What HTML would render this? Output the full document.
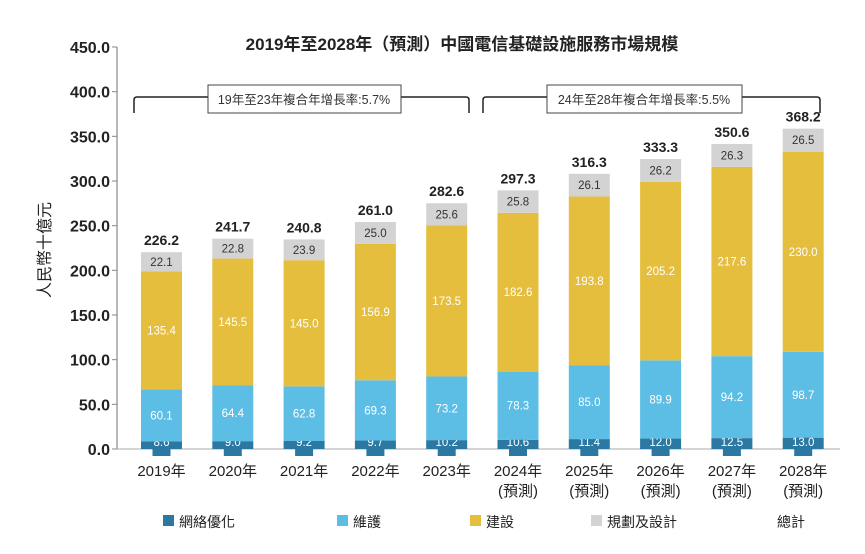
<!DOCTYPE html>
<html><head><meta charset="utf-8"><style>
body{margin:0;background:#fff;font-family:"Liberation Sans","Noto Sans CJK TC",sans-serif}
</style></head><body>
<svg id="c" width="865" height="549" font-family="Liberation Sans, Noto Sans CJK TC, sans-serif">
<text x="462" y="50" text-anchor="middle" font-size="17" font-weight="bold" fill="#222">2019年至2028年（預測）中國電信基礎設施服務市場規模</text>
<text transform="translate(50,250) rotate(-90)" text-anchor="middle" font-size="16" fill="#222">人民幣十億元</text>
<g id="axis"></g><g id="bars"></g>
<g fill="none" stroke="#222" stroke-width="1.5">
<path d="M134,113 V100 Q134,97 137,97 H466 Q469,97 469,100 V113"/></g>
<rect x="208" y="85" width="193" height="28" fill="#fff" stroke="#444"/>
<text x="304" y="104" text-anchor="middle" font-size="12.5" fill="#333">19年至23年複合年增長率:5.7%</text>
<g fill="none" stroke="#222" stroke-width="1.5">
<path d="M483,113 V100 Q483,97 486,97 H817 Q820,97 820,100 V113"/></g>
<rect x="547" y="85" width="195" height="28" fill="#fff" stroke="#444"/>
<text x="644" y="104" text-anchor="middle" font-size="12.5" fill="#333">24年至28年複合年增長率:5.5%</text>
<g id="legend" font-size="14" fill="#222">
<rect x="163" y="515" width="11" height="11" fill="#2b78a3"/>
<text x="179" y="527">網絡優化</text>
<rect x="337" y="515" width="11" height="11" fill="#5cbde5"/>
<text x="353" y="527">維護</text>
<rect x="470" y="515" width="11" height="11" fill="#e5be3e"/>
<text x="486" y="527">建設</text>
<rect x="591" y="515" width="11" height="11" fill="#d3d3d3"/>
<text x="607" y="527">規劃及設計</text>
<text x="777" y="527">總計</text>
</g>
</svg>
<script>
const categories=["2019年","2020年","2021年","2022年","2023年","2024年","2025年","2026年","2027年","2028年"];
const forecast=[false,false,false,false,false,true,true,true,true,true];
const network=[8.6,9.0,9.2,9.7,10.2,10.6,11.4,12.0,12.5,13.0];
const maintenance=[60.1,64.4,62.8,69.3,73.2,78.3,85.0,89.9,94.2,98.7];
const construction=[135.4,145.5,145.0,156.9,173.5,182.6,193.8,205.2,217.6,230.0];
const planning=[22.1,22.8,23.9,25.0,25.6,25.8,26.1,26.2,26.3,26.5];
const totals=[226.2,241.7,240.8,261.0,282.6,297.3,316.3,333.3,350.6,368.2];
const yTicks=[0,50,100,150,200,250,300,350,400,450];
const NS="http://www.w3.org/2000/svg";
const y0=449,yTopPx=47;
// tick axis scale (labels) and bar scale as drawn in the reference
function yTick(v){return y0-(v/450)*(y0-yTopPx);}
function y(v){return y0-v*0.87;}
function x(i){return 161.5+i*71.3;}
const bw=41;
function mk(tag,attrs,parent,txt){const e=document.createElementNS(NS,tag);for(const k in attrs)e.setAttribute(k,attrs[k]);if(txt!==undefined)e.textContent=txt;parent.appendChild(e);return e;}
const ax=document.getElementById('axis');
const yl=mk('line',{x1:117,x2:117,y1:yTopPx,y2:y0,stroke:'#888','stroke-width':1.2},ax);


yTicks.forEach(t=>{
 const tk=mk('line',{x1:112,x2:117,y1:yTick(t),y2:yTick(t),stroke:'#888'},ax);
 
 
 const tl=mk('text',{x:110,y:yTick(t)+6,'text-anchor':'end','font-size':16,'font-weight':'bold',fill:'#222'},ax,t.toFixed(1));
 
 
});
const xl=mk('line',{x1:117,x2:840,y1:y0,y2:y0,stroke:'#bbb','stroke-width':1.2},ax);


const bars=document.getElementById('bars');
const series=[[network,'#2b78a3','network'],[maintenance,'#5cbde5','maintenance'],[construction,'#e5be3e','construction'],[planning,'#d3d3d3','planning']];
categories.forEach((c,i)=>{
 let base=0;const cx=x(i);
 series.forEach(([arr,col,nm],si)=>{
  const v=arr[i];const top=y(base+v),bot=y(base);
  const r=mk('rect',{x:cx-bw/2,y:top,width:bw,height:bot-top,fill:col},bars);
  
  
  if(si===0){
   const tab=mk('rect',{x:cx-9,y:y0-17,width:18,height:24,fill:col},bars);
   
   
  }
  const ly=si===0?y0-3:(top+bot)/2+4;
  const col2=si===3?'#333':'#fff';
  const t=mk('text',{x:cx,y:ly,'text-anchor':'middle','font-size':11.5,fill:col2},bars,v.toFixed(1));
  
  
  base+=v;
 });
 const tt=mk('text',{x:cx,y:y(totals[i])-7,'text-anchor':'middle','font-size':14,'font-weight':'bold',fill:'#222'},bars,totals[i].toFixed(1));
 
 
 const cl=mk('text',{x:cx,y:476,'text-anchor':'middle','font-size':15,fill:'#222'},bars,c);
 
 
 if(forecast[i]){
  const fl=mk('text',{x:cx,y:496,'text-anchor':'middle','font-size':15,fill:'#222'},bars,'(預測)');
  
  
 }
});
</script>
</body></html>
